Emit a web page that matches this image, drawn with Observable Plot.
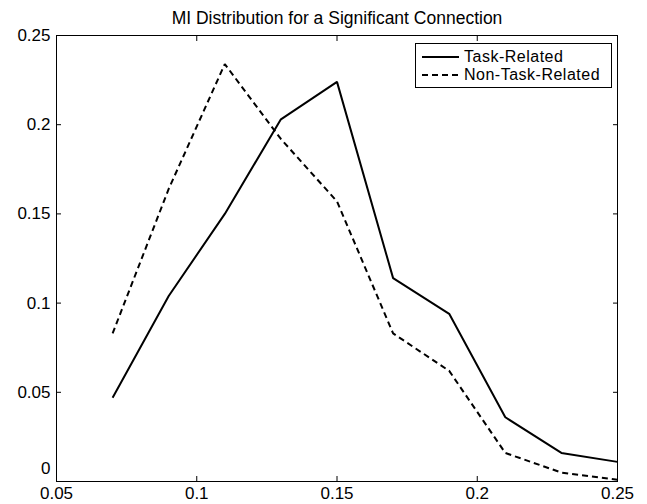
<!DOCTYPE html>
<html>
<head>
<meta charset="utf-8">
<script src="https://cdn.jsdelivr.net/npm/d3@7"></script>
<script src="https://cdn.jsdelivr.net/npm/@observablehq/plot@0.6"></script>
<style>
  html, body { margin: 0; padding: 0; background: #fff; }
  #wrap { position: relative; width: 647px; height: 504px; font-family: "Liberation Sans", Arial, sans-serif; }
  #legend { position: absolute; left: 415px; top: 43px; width: 195px; height: 43px; border: 1px solid #000; background: #fff; font-size: 16px; }
  #legend .row { position: absolute; left: 6px; height: 17px; display: flex; align-items: center; white-space: nowrap; }
  #legend svg { display: block; }
  #legend span { display: inline-block; margin-left: 5px; height: 17px; line-height: 17px; letter-spacing: 0.5px; }
</style>
</head>
<body>
<div id="wrap"></div>
<script>
// ---- data ----
const title = "MI Distribution for a Significant Connection";
const mi = [0.07, 0.09, 0.11, 0.13, 0.15, 0.17, 0.19, 0.21, 0.23, 0.25];
const taskRelated    = [0.047, 0.104, 0.150, 0.203, 0.224, 0.114, 0.094, 0.036, 0.016, 0.011];
const nonTaskRelated = [0.083, 0.164, 0.234, 0.192, 0.157, 0.083, 0.062, 0.016, 0.005, 0.001];
const seriesNames = ["Task-Related", "Non-Task-Related"];
const xTicks = [0.05, 0.1, 0.15, 0.2, 0.25];
const xTickLabels = ["0.05", "0.1", "0.15", "0.2", "0.25"];
const yTicks = [0, 0.05, 0.1, 0.15, 0.2, 0.25];
const yTickLabels = ["0", "0.05", "0.1", "0.15", "0.2", "0.25"];

const rows = [];
mi.forEach((x, i) => rows.push({x, y: taskRelated[i], s: seriesNames[0]}));
mi.forEach((x, i) => rows.push({x, y: nonTaskRelated[i], s: seriesNames[1]}));
const xLab = new Map(xTicks.map((t, i) => [t, xTickLabels[i]]));
const yLab = new Map(yTicks.map((t, i) => [t, yTickLabels[i]]));
const dashes = {"Task-Related": null, "Non-Task-Related": "6,4"};
const font = "'Liberation Sans', Arial, sans-serif";

const chart = Plot.plot({
  width: 647,
  height: 504,
  marginTop: 35,
  marginBottom: 23,
  marginLeft: 56,
  marginRight: 30,
  style: {fontFamily: font, fontSize: "17px", background: "#fff", color: "#000", overflow: "visible"},
  x: {domain: [0.05, 0.25]},
  y: {domain: [0, 0.25]},
  marks: [
    // tick labels
    Plot.axisX(xTicks, {anchor: "bottom", tickSize: 0, tickPadding: 5, tickFormat: d => xLab.get(d), label: null, fontSize: 17}),
    Plot.axisY(yTicks.filter(t => t !== 0), {anchor: "left", tickSize: 0, tickPadding: 6, tickFormat: d => yLab.get(d), label: null, fontSize: 17}),
    // the "0" label sits raised above the corner, as in the reference
    Plot.axisY(yTicks.filter(t => t === 0), {anchor: "left", tickSize: 0, tickPadding: 6, dy: -13, tickFormat: d => yLab.get(d), label: null, fontSize: 17}),
    // inward ticks on all four sides
    Plot.axisX(xTicks, {anchor: "bottom", tickSize: -5, tickFormat: () => "", label: null}),
    Plot.axisX(xTicks, {anchor: "top", tickSize: -5, tickFormat: () => "", label: null}),
    Plot.axisY(yTicks, {anchor: "left", tickSize: -5, tickFormat: () => "", label: null}),
    Plot.axisY(yTicks, {anchor: "right", tickSize: -5, tickFormat: () => "", label: null}),
    Plot.frame({stroke: "#000", strokeWidth: 1}),
    ...seriesNames.map(name => Plot.line(rows.filter(r => r.s === name), {
      x: "x", y: "y", stroke: "#000", strokeWidth: 2,
      strokeDasharray: dashes[name], strokeLinejoin: "miter", strokeLinecap: "butt"
    })),
    Plot.text([title], {frameAnchor: "top", dy: -24, fontSize: 17.5, fill: "#000"})
  ]
});
const wrap = document.getElementById("wrap");
wrap.appendChild(chart);

// legend (HTML overlay)
const legend = document.createElement("div");
legend.id = "legend";
seriesNames.forEach((name, i) => {
  const row = document.createElement("div");
  row.className = "row";
  row.style.top = (4 + i * 18) + "px";
  const dash = dashes[name] ? `stroke-dasharray="${dashes[name]}"` : "";
  row.innerHTML = `<svg width="37" height="6"><line x1="0" y1="3" x2="37" y2="3" stroke="#000" stroke-width="2" ${dash}/></svg><span>${name}</span>`;
  legend.appendChild(row);
});
wrap.appendChild(legend);
</script>
</body>
</html>
